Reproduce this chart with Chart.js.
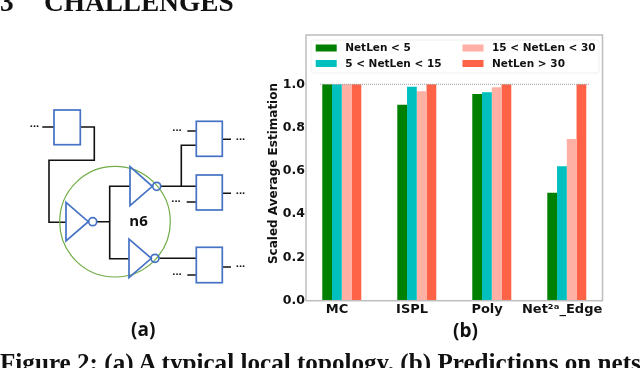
<!DOCTYPE html>
<html>
<head>
<meta charset="utf-8">
<script src="https://cdn.jsdelivr.net/npm/chart.js@4"></script>
<style>
html,body{margin:0;padding:0;background:#fff;width:640px;height:368px;overflow:hidden}
#c{position:absolute;left:0;top:0}
svg{position:absolute;left:0;top:0}
.t{position:absolute;white-space:pre;color:#111}
.serif{font-family:"Liberation Serif",serif;font-weight:700}
.sans{font-family:"Open Sans",sans-serif;font-weight:700}
</style>
</head>
<body>
<canvas id="c" width="640" height="368"></canvas>
<svg width="640" height="368" viewBox="0 0 640 368">
  <g fill="none" stroke="#111" stroke-width="1.6">
    <path d="M42.3 127H54M80.3 127H94.3V160.3H49V222.3H66"/>
    <path d="M97 221.7H109.7M130 186.3H109.7V258.7H129"/>
    <path d="M161 186.3H196.3M181.3 186.3V145.3H196.3M159.3 258.3H196.3"/>
    <path d="M187.3 131H196.3M222.3 139.3H231M186.7 202H196.3M222.3 193.3H231M187.3 275H196.3M222.3 267H231"/>
  </g>
  <circle cx="115" cy="221.7" r="55.3" fill="none" stroke="#70AD47" stroke-width="1.2"/>
  <g fill="#fff" stroke="#4472C4" stroke-width="1.7">
    <rect x="54" y="110" width="26.3" height="34.7"/>
    <rect x="196.3" y="121.3" width="26" height="35"/>
    <rect x="196.3" y="175" width="26" height="35"/>
    <rect x="196.3" y="247.3" width="26" height="35.4"/>
  </g>
  <g fill="none" stroke="#4472C4" stroke-width="1.7">
    <path d="M66 202.3V241L88.3 221.7Z"/><circle cx="92.7" cy="221.7" r="4"/>
    <path d="M130 166.7V205.7L152.3 186.3Z"/><circle cx="156.7" cy="186.3" r="4"/>
    <path d="M129 239V277.7L151.3 258.3Z"/><circle cx="155" cy="258.3" r="4"/>
  </g>
  <g fill="#111" font-family="Open Sans, sans-serif" font-weight="700" font-size="11" text-anchor="middle">
    <text x="34.5" y="130">···</text>
    <text x="177" y="134">···</text>
    <text x="240.5" y="142.5">···</text>
    <text x="176" y="205">···</text>
    <text x="240.5" y="196.5">···</text>
    <text x="177" y="278">···</text>
    <text x="240.5" y="270">···</text>
  </g>
  <text x="138.5" y="225.5" fill="#111" font-family="Open Sans, sans-serif" font-weight="700" font-size="15" text-anchor="middle">n6</text>
</svg>
<div class="t serif" style="left:0;top:-11px;font-size:27.3px;line-height:26px">3</div>
<div class="t serif" style="left:44px;top:-11px;font-size:27.3px;line-height:26px">CHALLENGES</div>
<div class="t sans" style="left:131px;top:316px;font-size:19px;line-height:26px">(a)</div>
<div class="t sans" style="left:453px;top:316.5px;font-size:19px;line-height:26px">(b)</div>
<div class="t serif" style="left:0;top:350.7px;font-size:25.15px;line-height:24px">Figure 2: (a) A typical local topology. (b) Predictions on nets</div>
<script>
const categories = ["MC", "ISPL", "Poly", "Net\u00B2\u1D43_Edge"];
const seriesNames = ["NetLen < 5", "5 < NetLen < 15", "15 < NetLen < 30", "NetLen > 30"];
const seriesColors = ["#008000", "#00BFBF", "#FFB0A5", "#FF6347"];
const netLenUnder5 = [1.0, 0.906, 0.955, 0.499];
const netLen5to15 = [1.0, 0.989, 0.963, 0.621];
const netLen15to30 = [1.0, 0.968, 0.986, 0.747];
const netLenOver30 = [1.0, 1.0, 1.0, 1.0];
const yTickValues = [0, 0.2, 0.4, 0.6, 0.8, 1.0];
const yAxisTitle = "Scaled Average Estimation";
const refLineY = 1.0;
const refLineX = [-0.29, 3.296];

const seriesValues = [netLenUnder5, netLen5to15, netLen15to30, netLenOver30];
const FONT = '"DejaVu Sans", sans-serif';

const frameAndLegend = {
  id: 'frameAndLegend',
  afterDraw(chart) {
    const ctx = chart.ctx, a = chart.chartArea;
    ctx.save();
    ctx.strokeStyle = '#BDBDBD';
    ctx.lineWidth = 1.5;
    ctx.strokeRect(a.left, a.top, a.right - a.left, a.bottom - a.top);
    const lx = a.left + 5, ly = a.top + 5, lw = 288, lh = 33;
    ctx.fillStyle = 'rgba(255,255,255,0.8)';
    ctx.strokeStyle = '#EFEFEF';
    ctx.lineWidth = 1;
    ctx.beginPath();
    ctx.roundRect(lx, ly, lw, lh, 2);
    ctx.fill();
    ctx.stroke();
    ctx.font = 'bold 10.5px ' + FONT;
    ctx.textBaseline = 'middle';
    const cols = [lx + 4.7, lx + 151.5], rows = [ly + 8, ly + 23.5];
    seriesNames.forEach((name, i) => {
      const cx = cols[i >> 1], cy = rows[i % 2];
      ctx.fillStyle = seriesColors[i];
      ctx.fillRect(cx, cy - 3.5, 21, 7);
      ctx.fillStyle = '#111';
      ctx.fillText(name, cx + 29.5, cy + 0.5);
    });
    ctx.translate(a.left - 32, a.top + 138.5);
    ctx.rotate(-Math.PI / 2);
    ctx.textAlign = 'center';
    ctx.font = 'bold 12px ' + FONT;
    ctx.fillStyle = '#111';
    ctx.fillText(yAxisTitle, 0, 0);
    ctx.restore();
  }
};

new Chart(document.getElementById('c'), {
  type: 'bar',
  data: {
    datasets: [
      ...seriesNames.map((name, i) => ({
        label: name,
        data: seriesValues[i].map((v, k) => ({ x: k, y: v })),
        backgroundColor: seriesColors[i],
        borderWidth: 0,
        barPercentage: 1,
        categoryPercentage: 0.52
      })),
      {
        type: 'line',
        label: 'reference',
        data: refLineX.map(x => ({ x, y: refLineY })),
        borderColor: '#9A9A9A',
        borderWidth: 1,
        borderDash: [1, 1],
        pointRadius: 0,
        order: -1
      }
    ]
  },
  options: {
    responsive: false,
    animation: false,
    layout: { padding: { left: 267, top: 35, right: 37.5, bottom: 0 } },
    plugins: { legend: { display: false }, tooltip: { enabled: false } },
    scales: {
      x: {
        type: 'linear',
        offset: false,
        min: -0.477,
        max: 3.476,
        grid: { display: false, drawTicks: false },
        border: { display: false },
        afterBuildTicks(s) { s.ticks = categories.map((_, i) => ({ value: i - 0.0625 })); },
        afterFit(s) { s.height = 67.3; },
        ticks: {
          autoSkip: false, maxRotation: 0, padding: 1, color: '#111',
          font: { family: FONT, weight: 'bold', size: 13 },
          callback: (v, i) => categories[i]
        }
      },
      y: {
        type: 'linear',
        min: 0,
        max: 1.2278,
        grid: { display: false, drawTicks: false },
        border: { display: false },
        afterBuildTicks(s) { s.ticks = yTickValues.map(value => ({ value })); },
        afterFit(s) { s.width = 39; },
        ticks: {
          padding: 1, color: '#111',
          font: { family: FONT, weight: 'bold', size: 12.5 },
          callback: v => v.toFixed(1)
        }
      }
    }
  },
  plugins: [frameAndLegend]
});
</script>
</body>
</html>
